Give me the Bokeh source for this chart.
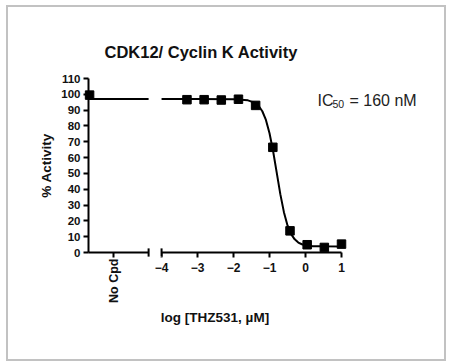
import math
from bokeh.plotting import figure
from bokeh.models import Range1d, FixedTicker
from bokeh.core.properties import value
from bokeh.embed import file_html
from bokeh.resources import INLINE

# ---------------- data ----------------
title_text = "CDK12/ Cyclin K Activity"
x_title = "log [THZ531, \u00b5M]"
y_title = "% Activity"
no_cpd_text = "No Cpd"

# log10 of THZ531 concentration (µM) and % activity
log_conc = [-3.294, -2.817, -2.340, -1.863, -1.386, -0.908, -0.431, 0.046, 0.523, 1.000]
activity = [96.6, 96.6, 96.4, 96.9, 93.0, 66.5, 13.7, 4.9, 3.2, 5.3]

# "No Cpd" control, drawn in the left (broken-off) part of the x axis
no_cpd_x = [-6.0]
no_cpd_activity = [99.5]

# fitted curve (NaN = break in the axis)
curve_x = [-6.03, -4.36, float("nan"),
           -4.0, -3.0, -2.0, -1.6, -1.4, -1.3, -1.2, -1.1, -1.0, -0.9, -0.8,
           -0.7, -0.6, -0.5, -0.4, -0.3, -0.2, -0.1, 0.0, 0.2, 0.5, 1.0]
curve_y = [97.0, 97.0, float("nan"),
           97.0, 97.0, 96.9, 96.2, 94.6, 92.6, 89.3, 83.8, 75.4, 64.0, 50.5,
           36.9, 25.5, 17.1, 11.6, 8.3, 6.3, 5.2, 4.6, 4.0, 3.9, 3.8]

x_ticks = [-5.33, -4, -3, -2, -1, 0, 1]
y_ticks = [0, 10, 20, 30, 40, 50, 60, 70, 80, 90, 100, 110]
break_left = -4.36
break_right = -4.0
x_start, x_end = -6.03, 1.0
y_start, y_end = 0, 110

ic_main = "IC"
ic_sub = "50"
ic_rest = "= 160 nM"

FONT = "Liberation Sans"
TXT = "#111111"

# figure sits at (8, 7) on the page; its grey frame is drawn just outside it
p = figure(frame_width=253, frame_height=174,
           min_border_left=80, min_border_right=103,
           min_border_top=71, min_border_bottom=107,
           x_range=Range1d(x_start, x_end), y_range=Range1d(y_start, y_end),
           output_backend="svg", toolbar_location=None,
           background_fill_color="white", border_fill_color="white")
p.margin = (7, 0, 0, 8)
p.styles = {"box-shadow": "0 0 0 2px #c2c2c2"}
p.outline_line_color = None
p.grid.visible = False
p.title.visible = False

for ax in (p.xaxis[0], p.yaxis[0]):
    ax.axis_line_width = 2
    ax.axis_line_color = "black"
    ax.major_tick_line_width = 2
    ax.major_tick_line_color = "black"
    ax.major_tick_in = 0
    ax.major_tick_out = 5
    ax.minor_tick_line_color = None
    ax.major_label_text_font = FONT
    ax.major_label_text_font_style = "bold"
    ax.major_label_text_color = TXT
    ax.axis_label_text_font = FONT
    ax.axis_label_text_font_style = "bold"
    ax.axis_label_text_color = TXT

xa = p.xaxis[0]
xa.ticker = FixedTicker(ticks=x_ticks)
xa.major_label_overrides = {x_ticks[0]: " "}
xa.major_label_text_font_size = "12px"
xa.major_label_standoff = 3
xa.axis_label = x_title
xa.axis_label_text_font_size = "13.5px"
xa.axis_label_standoff = 32

ya = p.yaxis[0]
ya.ticker = FixedTicker(ticks=y_ticks)
ya.major_label_text_font_size = "11.5px"
ya.major_label_standoff = 3
ya.axis_label = y_title
ya.axis_label_text_font_size = "13.5px"
ya.axis_label_standoff = 4

# chart title, placed by pixel offsets from the top-left frame corner
p.text(x=[x_start], y=[y_end], text=[title_text], x_offset=16, y_offset=-27,
       text_font=value(FONT), text_font_size="16.5px", text_font_style="bold",
       text_color=TXT, text_baseline="alphabetic", text_align="left",
       level="overlay")

# axis break: white gap and end caps
p.quad(left=[break_left], right=[break_right], bottom=[-3], top=[3],
       fill_color="white", line_color=None, level="overlay")
p.segment(x0=[break_left, break_right], y0=[-2.6, -2.6],
          x1=[break_left, break_right], y1=[2.6, 2.6],
          line_color="black", line_width=2, level="overlay")

# fitted curve
p.line(curve_x, curve_y, line_color="black", line_width=2)

# data points
p.scatter(log_conc, activity, marker="square", size=8.5,
          fill_color="black", line_color="black", level="overlay")
p.scatter(no_cpd_x, no_cpd_activity, marker="square", size=8.5,
          fill_color="black", line_color="black", level="overlay")

# "No Cpd" category label (rotated, under its tick)
p.text(x=[x_ticks[0]], y=[y_start], text=[no_cpd_text], y_offset=6,
       angle=math.pi / 2, text_align="right", text_baseline="middle",
       text_font=value(FONT), text_font_size="12.5px", text_font_style="bold",
       text_color=TXT, level="overlay")

# IC50 annotation (placed by pixel offsets from the top-right frame corner)
p.text(x=[x_end], y=[y_end], text=[ic_main], x_offset=-24, y_offset=22,
       text_font=value(FONT), text_font_size="16px", text_color="#222222",
       text_baseline="alphabetic", level="overlay")
p.text(x=[x_end], y=[y_end], text=[ic_sub], x_offset=-9, y_offset=25.5,
       text_font=value(FONT), text_font_size="10.5px", text_color="#222222",
       text_baseline="alphabetic", level="overlay")
p.text(x=[x_end], y=[y_end], text=[ic_rest], x_offset=8, y_offset=22,
       text_font=value(FONT), text_font_size="16px", text_color="#222222",
       text_baseline="alphabetic", level="overlay")

open("out.html", "w").write(file_html(p, INLINE))
